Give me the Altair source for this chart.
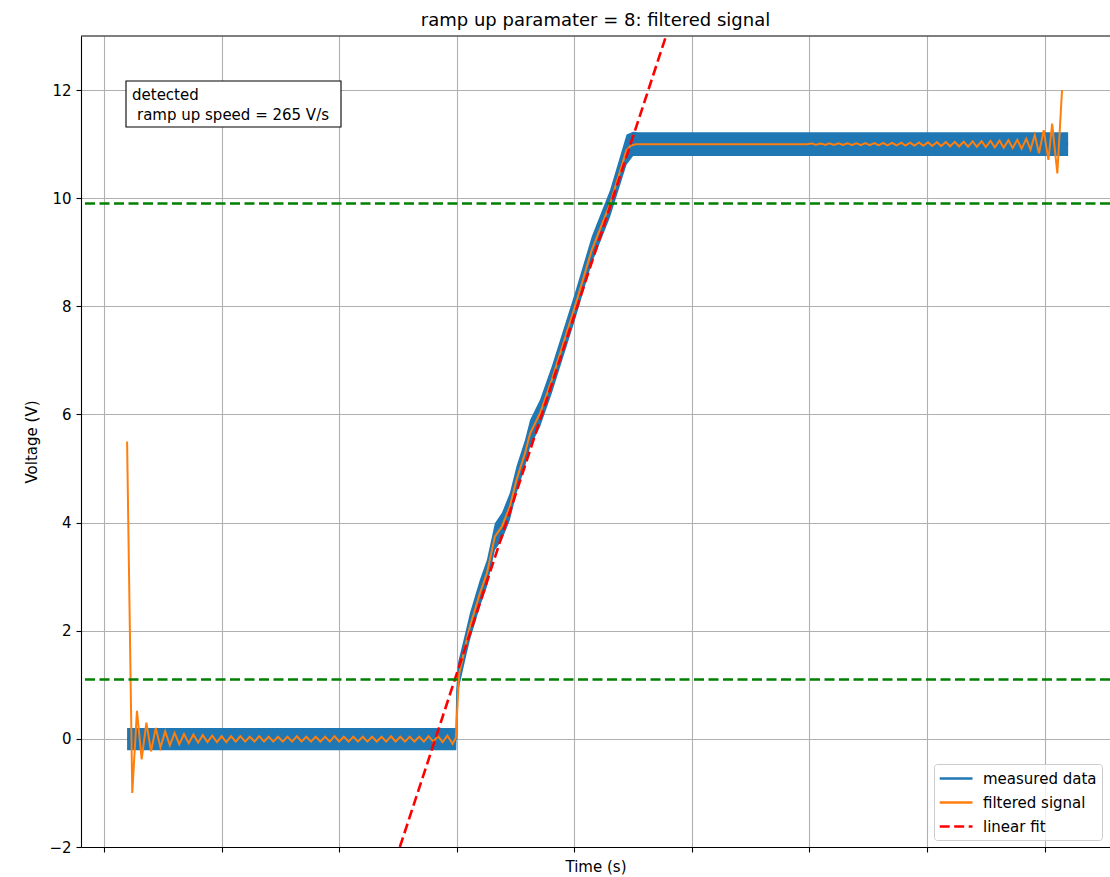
import altair as alt
import pandas as pd

# ---------------- data ----------------
series_names = ["measured data", "filtered signal", "linear fit"]
series_colors = ["#1f77b4", "#ff7f0e", "#ff0000"]

x_ticks = [0.0, 0.025, 0.05, 0.075, 0.1, 0.125, 0.15, 0.175, 0.2]
y_ticks = [-2, 0, 2, 4, 6, 8, 10, 12]

# measured data: centre line and noise envelope
meas_t = [0.0049, 0.0749, 0.0751, 0.0753, 0.0768, 0.0778, 0.0799, 0.0814, 0.0831, 0.0846,
          0.0863, 0.0877, 0.0895, 0.0906, 0.0927, 0.0952, 0.1001, 0.1037, 0.1076, 0.1111,
          0.1125, 0.1135, 0.2050]
meas_v = [0.0, 0.0, 0.9, 1.15, 1.71, 2.08, 2.69, 3.06, 3.74, 3.93,
          4.30, 4.79, 5.28, 5.65, 6.02, 6.64, 7.99, 9.04, 9.90, 10.89,
          11.01, 11.0, 11.0]
meas_hi = [0.2, 0.2, 1.25, 1.42, 1.96, 2.33, 2.94, 3.31, 3.99, 4.18,
           4.55, 5.04, 5.53, 5.9, 6.27, 6.89, 8.24, 9.29, 10.15, 11.18,
           11.23, 11.22, 11.22]
meas_lo = [-0.21, -0.21, 0.55, 0.88, 1.46, 1.83, 2.44, 2.81, 3.49, 3.68,
           4.05, 4.54, 5.03, 5.4, 5.77, 6.39, 7.74, 8.79, 9.65, 10.62,
           10.78, 10.78, 10.78]

# filtered signal: start spike + ringing on the low level
filt_start_t = [0.0049]
filt_start_v = [5.50]
filt_low_t = [0.0060, 0.0070, 0.0080, 0.0090, 0.0100, 0.0110, 0.0120, 0.0130, 0.0140, 0.0150,
              0.0160, 0.0170, 0.0180, 0.0190, 0.0200, 0.0210, 0.0220, 0.0230, 0.0240, 0.0250,
              0.0260, 0.0270, 0.0280, 0.0290, 0.0300, 0.0310, 0.0320, 0.0330, 0.0340, 0.0350,
              0.0360, 0.0370, 0.0380, 0.0390, 0.0400, 0.0410, 0.0420, 0.0430, 0.0440, 0.0450,
              0.0460, 0.0470, 0.0480, 0.0490, 0.0500, 0.0510, 0.0520, 0.0530, 0.0540, 0.0550,
              0.0560, 0.0570, 0.0580, 0.0590, 0.0600, 0.0610, 0.0620, 0.0630, 0.0640, 0.0650,
              0.0660, 0.0670, 0.0680, 0.0690, 0.0700, 0.0710, 0.0720, 0.0730]
filt_low_v = [-1.00, 0.52, -0.38, 0.30, -0.23, 0.20, -0.16, 0.14, -0.12, 0.11,
              -0.10, 0.09, -0.08, 0.08, -0.07, 0.07, -0.06, 0.06, -0.06, 0.05,
              -0.06, 0.05, -0.05, 0.05, -0.05, 0.04, -0.05, 0.05, -0.05, 0.04,
              -0.05, 0.04, -0.05, 0.04, -0.05, 0.05, -0.05, 0.04, -0.05, 0.04,
              -0.05, 0.04, -0.05, 0.05, -0.05, 0.04, -0.05, 0.04, -0.05, 0.04,
              -0.05, 0.04, -0.05, 0.04, -0.05, 0.05, -0.05, 0.04, -0.05, 0.04,
              -0.05, 0.04, -0.05, 0.05, -0.05, 0.05, -0.06, 0.06]
# filtered signal: ramp
filt_ramp_t = [0.0741, 0.0748, 0.0755, 0.0768, 0.0778, 0.0799, 0.0814, 0.0831, 0.0846, 0.0863,
               0.0877, 0.0895, 0.0906, 0.0927, 0.0952, 0.1001, 0.1037, 0.1076, 0.1111, 0.1120,
               0.1131, 0.1496]
filt_ramp_v = [-0.09, 0.02, 1.20, 1.71, 2.08, 2.69, 3.06, 3.74, 3.93, 4.30,
               4.79, 5.28, 5.65, 6.02, 6.64, 7.99, 9.04, 9.90, 10.89, 10.97,
               11.0, 11.0]
# filtered signal: growing ringing on the high level
filt_high_t = [0.1505, 0.1514, 0.1524, 0.1533, 0.1543, 0.1552, 0.1562, 0.1571, 0.1581, 0.1590,
               0.1600, 0.1609, 0.1619, 0.1628, 0.1638, 0.1647, 0.1657, 0.1666, 0.1676, 0.1685,
               0.1695, 0.1704, 0.1714, 0.1723, 0.1733, 0.1742, 0.1752, 0.1761, 0.1771, 0.1780,
               0.1790, 0.1799, 0.1809, 0.1818, 0.1828, 0.1837, 0.1847, 0.1856, 0.1866, 0.1875,
               0.1885, 0.1894, 0.1904, 0.1913, 0.1923, 0.1932, 0.1942, 0.1951, 0.1961, 0.1970,
               0.1979, 0.1988, 0.1998, 0.2008, 0.2016, 0.2027, 0.2037]
filt_high_v = [11.012, 10.988, 11.013, 10.987, 11.014, 10.986, 11.015, 10.985, 11.016, 10.984,
               11.017, 10.983, 11.019, 10.981, 11.020, 10.980, 11.022, 10.978, 11.024, 10.976,
               11.026, 10.974, 11.028, 10.972, 11.030, 10.970, 11.033, 10.967, 11.036, 10.964,
               11.040, 10.960, 11.043, 10.957, 11.047, 10.953, 11.050, 10.950, 11.055, 10.945,
               11.060, 10.940, 11.066, 10.934, 11.072, 10.928, 11.080, 10.915, 11.100, 10.900,
               11.17, 10.83, 11.26, 10.71, 11.38, 10.46, 12.00]

# linear fit (read at the bottom and top edges of the plot)
fit_t = [0.0629, 0.1195]
fit_v = [-2.0, 13.0]

# 10 % / 90 % thresholds
thr_v = [1.1, 9.9]

annotation_line1 = "detected"
annotation_line2 = "ramp up speed = 265 V/s"
title_text = "ramp up paramater = 8: filtered signal"

# ---------------- tables ----------------
meas_df = pd.DataFrame({"t": meas_t, "v": meas_v, "hi": meas_hi, "lo": meas_lo,
                        "series": series_names[0]})
filt_df = pd.DataFrame({"t": filt_start_t + filt_low_t + filt_ramp_t + filt_high_t,
                        "v": filt_start_v + filt_low_v + filt_ramp_v + filt_high_v,
                        "series": series_names[1]})
fit_df = pd.DataFrame({"t": fit_t, "v": fit_v, "series": series_names[2]})
thr_df = pd.DataFrame({"v": thr_v})
one_df = pd.DataFrame({"k": [0]})

FONT = "DejaVu Sans"
xs = alt.Scale(domain=[-0.0049, 0.2139], nice=False, zero=False)
ys = alt.Scale(domain=[-2, 13], nice=False, zero=False)


def X(field="t"):
    return alt.X(f"{field}:Q", scale=xs,
                 axis=alt.Axis(values=x_ticks, labels=False, title="Time (s)", grid=True,
                               titlePadding=7))


def Y(field="v"):
    return alt.Y(f"{field}:Q", scale=ys,
                 axis=alt.Axis(values=y_ticks, format="d", title="Voltage (V)", grid=True,
                               labelPadding=5, titlePadding=9))


legend = alt.Legend(title=None, orient="none", legendX=853, legendY=728,
                    symbolType="M-1.1,0H3", symbolSize=256, symbolStrokeWidth=2.3,
                    labelFont=FONT, labelFontSize=15, labelColor="black", labelOffset=25,
                    rowPadding=6, padding=5, fillColor="rgba(255,255,255,0.8)",
                    strokeColor="#cccccc", cornerRadius=3)
color_enc = alt.Color("series:N", scale=alt.Scale(domain=series_names, range=series_colors),
                      legend=legend)
dash_enc = alt.StrokeDash("series:N",
                          scale=alt.Scale(domain=series_names, range=[[1, 0], [1, 0], [10, 4.5]]),
                          legend=legend)

band = alt.Chart(meas_df).mark_area(color="#1f77b4", opacity=1).encode(
    x=X(), y=Y("hi"), y2=alt.Y2("lo"))
meas_line = alt.Chart(meas_df).mark_line(strokeWidth=2).encode(
    x=X(), y=Y(), color=color_enc, strokeDash=dash_enc)
filt_line = alt.Chart(filt_df).mark_line(strokeWidth=2).encode(
    x=X(), y=Y(), color=color_enc, strokeDash=dash_enc)
fit_line = alt.Chart(fit_df).mark_line(strokeWidth=2.6, clip=True).encode(
    x=X(), y=Y(), color=color_enc, strokeDash=dash_enc)
thr_lines = alt.Chart(thr_df).mark_rule(color="#008000", strokeWidth=2.5,
                                        strokeDash=[10, 4.5]).encode(y=Y())
top_border = alt.Chart(one_df).mark_rule(color="black", strokeWidth=1.1).encode(
    x=alt.value(0), x2=alt.value(1029), y=alt.value(0))
ann_box = alt.Chart(one_df).mark_rect(fill="white", stroke="black", strokeWidth=1.1).encode(
    x=alt.value(45), x2=alt.value(260), y=alt.value(45), y2=alt.value(91))
ann_text1 = alt.Chart(one_df).mark_text(align="left", baseline="top", font=FONT, fontSize=15,
                                        color="black", text=annotation_line1).encode(
    x=alt.value(51), y=alt.value(52))
ann_text2 = alt.Chart(one_df).mark_text(align="left", baseline="top", font=FONT, fontSize=15,
                                        color="black", text=annotation_line2).encode(
    x=alt.value(56), y=alt.value(72))

chart = alt.layer(band, meas_line, filt_line, fit_line, thr_lines, top_border, ann_box,
                  ann_text1, ann_text2).properties(
    width=1029, height=811,
    title=alt.Title(title_text, font=FONT, fontSize=18, fontWeight="normal", color="black",
                    offset=5),
    autosize=alt.AutoSizeParams(type="none"),
    padding={"left": 81, "top": 36, "right": 0, "bottom": 30},
    background="white",
).configure_view(stroke=None).configure_axis(
    labelFont=FONT, labelFontSize=15, labelColor="black",
    titleFont=FONT, titleFontSize=15, titleFontWeight="normal", titleColor="black",
    gridColor="#b0b0b0", gridWidth=1.1, gridOpacity=1,
    domainColor="black", domainWidth=1.1, tickColor="black", tickWidth=1.1, tickSize=5,
)

chart.save("out.html", embed_options={"renderer": "svg", "actions": False})
